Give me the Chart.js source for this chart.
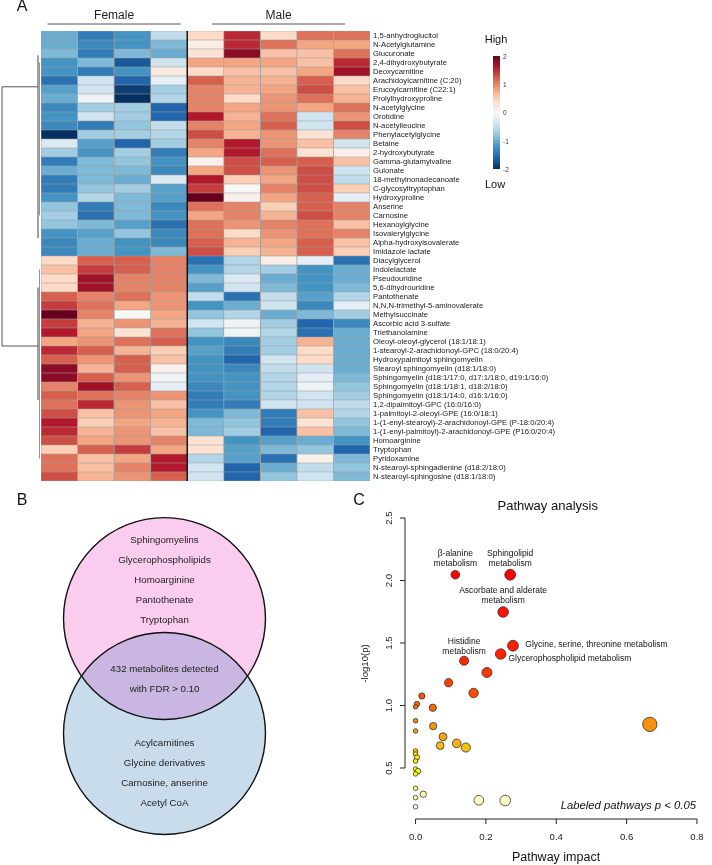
<!DOCTYPE html>
<html lang="en">
<head>
<meta charset="UTF-8">
<title>Metabolite heatmap, Venn diagram and pathway analysis</title>
<script src="https://cdn.jsdelivr.net/npm/chart.js"></script>
<style>
    body { margin: 0; background: #fff; }
    #page { position: relative; width: 712px; height: 865px; overflow: hidden; }
    .panel { position: absolute; }
</style>
</head>
<body>
<div id="page">
    <div class="panel" style="left:0;top:0"><canvas id="heatmap" width="712" height="490"></canvas></div>
    <div class="panel" style="left:0;top:490px"><canvas id="venn" width="340" height="375"></canvas></div>
    <div class="panel" style="left:340px;top:490px"><canvas id="pathway" width="372" height="375"></canvas></div>
</div>
<script>
// ---- data ----
const groups = ['Female', 'Male'];
const samples = ['F1', 'F2', 'F3', 'F4', 'M1', 'M2', 'M3', 'M4', 'M5'];
const metabolites = [
    '1,5-anhydroglucitol', 'N-Acetylglutamine', 'Glucuronate', '2,4-dihydroxybutyrate', 'Deoxycarnitine',
    'Arachidoylcarnitine (C:20)', 'Erucoylcarnitine (C22:1)', 'Prolylhydroxyproline', 'N-acetylglycine', 'Orotidine',
    'N-acetylleucine', 'Phenylacetylglycine', 'Betaine', '2-hydroxybutyrate', 'Gamma-glutamylvaline',
    'Gulonate', '18-methylnonadecanoate', 'C-glycosyltryptophan', 'Hydroxyproline', 'Anserine',
    'Carnosine', 'Hexanoylglycine', 'Isovalerylglycine', 'Alpha-hydroxyisovalerate', 'Imidazole lactate',
    'Diacylglycerol', 'Indolelactate', 'Pseudouridine', '5,6-dihydrouridine', 'Pantothenate',
    'N,N,N-trimethyl-5-aminovalerate', 'Methylsuccinate', 'Ascorbic acid 3-sulfate', 'Triethanolamine', 'Oleoyl-oleoyl-glycerol (18:1/18:1)',
    '1-stearoyl-2-arachidonoyl-GPC (18:0/20:4)', 'Hydroxypalmitoyl sphingomyelin', 'Stearoyl sphingomyelin (d18:1/18:0)',
    'Sphingomyelin (d18:1/17:0, d17:1/18:0, d19:1/16:0)', 'Sphingomyelin (d18:1/18:1, d18:2/18:0)',
    'Sphingomyelin (d18:1/14:0, d16:1/16:0)', '1,2-dipalmitoyl-GPC (16:0/16:0)', '1-palmitoyl-2-oleoyl-GPE (16:0/18:1)',
    '1-(1-enyl-stearoyl)-2-arachidonoyl-GPE (P-18:0/20:4)', '1-(1-enyl-palmitoyl)-2-arachidonoyl-GPE (P16:0/20:4)',
    'Homoarginine', 'Tryptophan', 'Pyridoxamine', 'N-stearoyl-sphingadienine (d18:2/18:0)', 'N-stearoyl-sphingosine (d18:1/18:0)'
];
// one row per metabolite, columns follow samples
const zScores = [
    [-1.0, -1.4, -1.2, -0.5, 0.4, 1.5, 0.4, 1.1, 1.1],
    [-1.0, -1.3, -1.2, -0.9, 0.15, 1.5, 1.1, 0.8, 0.8],
    [-0.9, -1.4, -0.9, -1.0, 0.3, 1.8, 0.6, 0.6, 1.1],
    [-1.2, -0.9, -1.7, -0.4, 0.8, 0.8, 0.8, 0.6, 1.5],
    [-1.2, -1.4, -1.2, 0.2, 0.4, 0.6, 0.6, 0.8, 1.7],
    [-1.5, -0.4, -1.6, -0.2, 1.2, 0.7, 0.7, 1.2, 0.4],
    [-1.1, -0.4, -1.9, -0.7, 1.0, 0.7, 0.8, 1.3, 0.6],
    [-1.0, -0.1, -2.0, -0.6, 1.0, 0.4, 0.9, 1.1, 0.7],
    [-1.3, -0.7, -0.7, -1.6, 1.0, 0.8, 0.9, 0.8, 1.1],
    [-1.2, -0.4, -0.7, -1.6, 1.6, 0.7, 1.1, -0.4, 0.9],
    [-1.3, -1.4, -0.8, -0.5, 1.0, 0.8, 1.2, -0.4, 1.3],
    [-2.0, -0.7, -0.7, -0.6, 1.3, 0.7, 0.9, 0.3, 1.0],
    [-0.3, -1.1, -1.6, -0.7, 1.0, 1.6, 0.9, 0.6, -0.4],
    [-0.7, -1.2, -0.7, -1.4, 0.8, 1.6, 1.1, 0.3, 0.1],
    [-1.4, -0.9, -0.8, -1.2, 0.1, 1.3, 1.2, 1.2, 0.6],
    [-1.0, -0.9, -0.9, -1.3, 0.8, 1.3, 0.9, 1.3, -0.4],
    [-1.4, -0.9, -1.0, -0.3, 1.6, 0.5, 0.8, 1.3, -0.5],
    [-1.4, -0.8, -0.7, -1.1, 1.4, 0.0, 1.0, 1.3, 0.5],
    [-1.2, -0.6, -0.9, -1.1, 2.0, 0.1, 0.8, 1.2, -0.2],
    [-0.8, -1.4, -0.9, -1.3, 1.1, 1.0, 0.5, 1.2, 1.0],
    [-0.7, -1.5, -0.9, -1.2, 0.8, 1.0, 0.7, 1.3, 1.0],
    [-0.8, -0.9, -1.1, -1.5, 1.1, 0.9, 1.0, 1.1, 0.6],
    [-1.2, -1.1, -0.8, -1.3, 1.1, 0.4, 0.9, 1.1, 1.0],
    [-1.3, -1.0, -1.2, -1.3, 1.2, 0.7, 0.8, 1.2, 0.6],
    [-1.3, -1.0, -1.2, -0.9, 1.3, 0.5, 0.7, 1.2, 0.5],
    [0.4, 1.2, 1.2, 1.0, -1.5, -0.6, 0.15, -0.2, -1.5],
    [0.6, 1.4, 1.2, 1.0, -1.2, -0.6, -0.7, -1.2, -1.0],
    [0.4, 1.7, 1.0, 1.0, -0.9, -0.3, -1.0, -1.2, -1.0],
    [0.4, 1.7, 1.0, 1.0, -1.1, -0.4, -0.9, -1.2, -0.9],
    [1.2, 1.0, 1.1, 0.9, -0.5, -1.5, -0.5, -1.1, -0.6],
    [1.4, 1.1, 0.8, 0.9, -1.2, -1.0, -0.4, -1.3, -0.2],
    [2.0, 1.0, 0.0, 0.8, -0.8, -0.6, -1.0, -0.9, -0.7],
    [1.4, 0.7, 0.9, 0.7, -0.4, -0.1, -0.7, -1.6, -1.3],
    [1.6, 0.8, 0.3, 1.1, -0.8, -0.1, -0.6, -1.5, -1.0],
    [0.8, 0.9, 1.1, 1.2, -1.2, -1.3, -0.7, 0.7, -1.0],
    [1.5, 1.2, 0.7, 0.5, -1.1, -1.4, -0.7, 0.4, -1.0],
    [1.2, 0.9, 1.2, 0.6, -1.2, -1.6, -0.4, 0.4, -1.0],
    [1.8, 0.7, 1.2, 0.1, -1.2, -1.3, -0.5, -0.4, -1.0],
    [1.8, 1.2, 0.9, -0.1, -1.2, -1.2, -0.6, -0.2, -0.9],
    [1.0, 1.7, 1.2, -0.2, -1.3, -1.2, -0.6, -0.1, -0.8],
    [1.2, 1.1, 1.0, 0.9, -1.4, -1.2, -0.6, -0.4, -0.7],
    [1.1, 1.5, 0.9, 0.6, -1.4, -1.4, -0.4, -0.4, -0.5],
    [1.3, 0.6, 0.9, 0.8, -1.2, -0.9, -1.4, 0.6, -0.6],
    [1.6, 0.5, 0.8, 0.7, -0.9, -0.8, -1.4, 0.3, -0.8],
    [1.5, 0.7, 0.9, 0.6, -0.9, -0.7, -1.6, 0.6, -0.9],
    [1.3, 0.8, 0.9, 1.0, 0.3, -1.2, -1.1, -1.0, -1.2],
    [0.5, 1.2, 1.4, 0.8, 0.3, -1.1, -0.9, -0.8, -1.6],
    [1.1, 0.6, 0.8, 1.6, -0.6, -1.1, -1.5, 0.1, -0.9],
    [1.1, 0.6, 1.0, 1.6, -0.4, -1.6, -1.0, -0.5, -0.8],
    [1.3, 0.7, 0.9, 1.2, -0.4, -1.6, -0.8, -0.4, -0.9]
];
const colorbarTicks = [2, 1, 0, -1, -2];

const femaleHigher = ['Sphingomyelins', 'Glycerophospholipids', 'Homoarginine', 'Pantothenate', 'Tryptophan'];
const sharedText = ['432 metabolites detected', 'with FDR > 0.10'];
const maleHigher = ['Acylcarnitines', 'Glycine derivatives', 'Carnosine, anserine', 'Acetyl CoA'];

const pathwayImpact = [0.113, 0.269, 0.249, 0.277, 0.242, 0.138, 0.203, 0.094, 0.165, 0.018,
    0.004, 0.000, 0.049, 0.000, 0.050, 0.000, 0.078, 0.070, 0.117, 0.143,
    0.666, 0.000, 0.000, 0.004, 0.000, 0.000, 0.007, 0.000, 0.000, 0.022,
    0.000, 0.000, 0.180, 0.255];
const negLog10P = [2.046, 2.046, 1.748, 1.478, 1.412, 1.358, 1.264, 1.182, 1.100, 1.076,
    1.012, 0.990, 0.982, 0.878, 0.835, 0.796, 0.750, 0.679, 0.697, 0.664,
    0.849, 0.636, 0.612, 0.584, 0.556, 0.492, 0.475, 0.453, 0.338, 0.290,
    0.263, 0.190, 0.242, 0.240];
const pathwayNames = ['β-alanine\nmetabolism', 'Sphingolipid\nmetabolism', 'Ascorbate and alderate\nmetabolism',
    'Glycine, serine, threonine metabolism', 'Glycerophospholipid metabolism', 'Histidine\nmetabolism'];
const xTicks = [0, 0.2, 0.4, 0.6, 0.8];
const yTicks = [0.5, 1.0, 1.5, 2.0, 2.5];

// ---- helpers ----
const FONT = 'Arial, "Liberation Sans", sans-serif';
Chart.defaults.font.family = FONT;

const rdbuStops = ['#053061', '#2166ac', '#4393c3', '#92c5de', '#d1e5f0', '#f7f7f7',
    '#fddbc7', '#f4a582', '#d6604d', '#b2182b', '#67001f'].map(h => [1, 3, 5].map(i => parseInt(h.substr(i, 2), 16)));

function mix(a, b, f) {
    return 'rgb(' + a.map((c, i) => Math.round(c + (b[i] - c) * f)).join(',') + ')';
}

function rdbu(v) {
    const t = Math.max(0, Math.min(1, (v + 2) / 4)) * 10;
    const i = Math.min(9, Math.floor(t));
    return mix(rdbuStops[i], rdbuStops[i + 1], t - i);
}

const heatStops = [[0.19, [255, 255, 240]], [0.25, [255, 255, 190]], [0.34, [255, 255, 120]], [0.45, [255, 255, 0]],
    [0.58, [255, 238, 0]], [0.64, [252, 205, 10]], [0.70, [248, 175, 20]], [0.85, [245, 145, 15]],
    [0.98, [245, 110, 10]], [1.1, [250, 75, 0]], [1.4, [255, 35, 0]], [2.05, [255, 0, 0]]];

function heatColor(p) {
    if (p <= heatStops[0][0]) return mix(heatStops[0][1], heatStops[0][1], 0);
    for (let i = 1; i < heatStops.length; i++) {
        if (p <= heatStops[i][0]) {
            const f = (p - heatStops[i - 1][0]) / (heatStops[i][0] - heatStops[i - 1][0]);
            return mix(heatStops[i - 1][1], heatStops[i][1], f);
        }
    }
    return 'rgb(255,0,0)';
}

function text(ctx, str, x, y, size, align, opts) {
    ctx.save();
    ctx.font = (opts && opts.style ? opts.style + ' ' : '') + size + 'px ' + FONT;
    ctx.fillStyle = (opts && opts.color) || '#111';
    ctx.textAlign = align || 'center';
    ctx.textBaseline = 'middle';
    if (opts && opts.rotate) {
        ctx.translate(x, y);
        ctx.rotate(opts.rotate);
        ctx.fillText(str, 0, 0);
    } else {
        ctx.fillText(str, x, y);
    }
    ctx.restore();
}

function line(ctx, x1, y1, x2, y2, color, width) {
    ctx.save();
    ctx.strokeStyle = color;
    ctx.lineWidth = width;
    ctx.beginPath();
    ctx.moveTo(x1, y1);
    ctx.lineTo(x2, y2);
    ctx.stroke();
    ctx.restore();
}

// ---- A: heatmap ----
const heatmapDecor = {
    id: 'heatmapDecor',
    afterDraw(chart) {
        const ctx = chart.ctx;
        const x = chart.scales.x, y = chart.scales.y;
        const area = chart.chartArea;

        // split between groups
        line(ctx, x.getPixelForValue(4), area.top, x.getPixelForValue(4), area.bottom, '#000', 1.3);

        // group headers
        const centres = [2, 6.5];
        groups.forEach((g, i) => {
            const c = centres[i];
            text(ctx, g, x.getPixelForValue(c), 16, 12, 'center', { color: '#222' });
            line(ctx, x.getPixelForValue(c - 1.82), 24, x.getPixelForValue(c + 1.82), 24, '#555', 1);
        });

        // row dendrogram
        const rootX = area.left - 39, branchX = area.left - 3;
        const topY = y.getPixelForValue(5.7), botY = y.getPixelForValue(34.5);
        const g = '#555';
        line(ctx, rootX, topY, rootX, botY, g, 1);
        line(ctx, rootX, topY, branchX, topY, g, 1);
        line(ctx, rootX, botY, branchX, botY, g, 1);
        line(ctx, branchX, y.getPixelForValue(2.2), branchX, y.getPixelForValue(22.5), '#444', 1);
        line(ctx, branchX + 1.5, y.getPixelForValue(3), branchX + 1.5, y.getPixelForValue(20), '#777', 0.8);
        line(ctx, branchX, y.getPixelForValue(28), branchX, y.getPixelForValue(40.5), '#444', 1);
        line(ctx, branchX + 1.5, y.getPixelForValue(26), branchX + 1.5, y.getPixelForValue(47), '#777', 0.8);

        // colour key
        const kx = 493, kw = 7, kTop = 56, kBot = 169;
        for (let py = kTop; py < kBot; py++) {
            ctx.fillStyle = rdbu(2 - 4 * (py - kTop + 0.5) / (kBot - kTop));
            ctx.fillRect(kx, py, kw, 1);
        }
        colorbarTicks.forEach(v => {
            const py = kTop + (2 - v) / 4 * (kBot - kTop);
            text(ctx, String(v), kx + 10, py + 1, 6.5, 'left', { color: '#333' });
        });
        text(ctx, 'High', 496, 40, 11, 'center', { color: '#111' });
        text(ctx, 'Low', 495, 185, 11, 'center', { color: '#111' });

        text(ctx, 'A', 22, 7, 16, 'center', { color: '#111' });
    }
};

new Chart(document.getElementById('heatmap'), {
    type: 'bar',
    data: {
        labels: metabolites,
        datasets: samples.map((s, j) => ({
            label: s,
            data: metabolites.map(() => [j, j + 1]),
            backgroundColor: zScores.map(row => rdbu(row[j])),
            borderColor: '#a0a0a0',
            borderWidth: 0.7,
            borderSkipped: false,
            grouped: false,
            barPercentage: 1,
            categoryPercentage: 1
        }))
    },
    options: {
        indexAxis: 'y',
        responsive: false,
        animation: false,
        layout: { padding: { left: 41, top: 31, bottom: 9, right: 0 } },
        plugins: { legend: { display: false }, tooltip: { enabled: false } },
        scales: {
            x: { type: 'linear', min: 0, max: 9, display: false },
            y: {
                position: 'right',
                grid: { display: false, drawTicks: false },
                border: { display: false },
                afterFit: s => { s.width = 342; },
                ticks: { autoSkip: false, padding: 3, color: '#1a1a1a', font: { size: 7.7 } }
            }
        }
    },
    plugins: [heatmapDecor]
});

// ---- B: Venn diagram ----
const vennDecor = {
    id: 'vennDecor',
    afterDatasetsDraw(chart) {
        const ctx = chart.ctx;
        const pts = chart.getDatasetMeta(0).data;
        const r = chart.scales.x.getPixelForValue(1) - chart.scales.x.getPixelForValue(0);
        const [a, b] = pts;
        ctx.save();
        ctx.beginPath();
        ctx.arc(a.x, a.y, r, 0, Math.PI * 2);
        ctx.clip();
        ctx.beginPath();
        ctx.arc(b.x, b.y, r, 0, Math.PI * 2);
        ctx.fillStyle = '#c9b6e1';
        ctx.fill();
        ctx.restore();
        ctx.save();
        ctx.strokeStyle = '#111';
        ctx.lineWidth = 1.4;
        [a, b].forEach(p => { ctx.beginPath(); ctx.arc(p.x, p.y, r, 0, Math.PI * 2); ctx.stroke(); });
        ctx.restore();

        const step = 20;
        femaleHigher.forEach((t, i) => text(ctx, t, a.x, a.y - 78.5 + i * step, 9.7, 'center', { color: '#222' }));
        const mid = (a.y + b.y) / 2;
        sharedText.forEach((t, i) => text(ctx, t, a.x, mid - 7 + i * step, 9.7, 'center', { color: '#222' }));
        maleHigher.forEach((t, i) => text(ctx, t, b.x, b.y + 9.5 + i * step, 9.7, 'center', { color: '#222' }));

        text(ctx, 'B', 22, 11, 16, 'center', { color: '#111' });
    }
};

new Chart(document.getElementById('venn'), {
    type: 'scatter',
    data: {
        datasets: [{
            data: [{ x: 0, y: 0.569 }, { x: 0, y: -0.569 }],
            backgroundColor: ['#facdef', '#c9dcec'],
            borderWidth: 0,
            pointRadius: c => c.chart.scales.x.getPixelForValue(1) - c.chart.scales.x.getPixelForValue(0)
        }]
    },
    options: {
        responsive: false,
        animation: false,
        layout: { padding: 0 },
        plugins: { legend: { display: false }, tooltip: { enabled: false } },
        scales: {
            x: { min: -1.629, max: 1.738, display: false },
            y: { min: -1.871, max: 1.842, display: false }
        }
    },
    plugins: [vennDecor]
});

// ---- C: pathway analysis ----
const labelPlacement = [
    { dx: 0, dy: -20.7, align: 'center' },
    { dx: 0, dy: -20.7, align: 'center' },
    { dx: 0, dy: -21.3, align: 'center' },
    { dx: 12.3, dy: -1, align: 'left' },
    { dx: 7.7, dy: 5, align: 'left' },
    { dx: 0, dy: -18.7, align: 'center' }
];

const pathwayDecor = {
    id: 'pathwayDecor',
    afterDraw(chart) {
        const ctx = chart.ctx;
        const x = chart.scales.x, y = chart.scales.y;
        const area = chart.chartArea;
        const ax = '#222';

        // x axis
        line(ctx, x.getPixelForValue(xTicks[0]), area.bottom, x.getPixelForValue(xTicks[xTicks.length - 1]), area.bottom, ax, 1);
        xTicks.forEach(v => {
            const px = x.getPixelForValue(v);
            line(ctx, px, area.bottom, px, area.bottom + 5, ax, 1);
            text(ctx, v.toFixed(1), px, area.bottom + 18, 9.6, 'center', { color: '#222' });
        });
        // y axis
        line(ctx, area.left, y.getPixelForValue(yTicks[0]), area.left, y.getPixelForValue(yTicks[yTicks.length - 1]), ax, 1);
        yTicks.forEach(v => {
            const py = y.getPixelForValue(v);
            line(ctx, area.left - 5, py, area.left, py, ax, 1);
            text(ctx, v.toFixed(1), area.left - 16, py, 9.6, 'center', { color: '#222', rotate: -Math.PI / 2 });
        });

        text(ctx, 'Pathway impact', (area.left + area.right) / 2 + 1.5, area.bottom + 39, 12.5, 'center', { color: '#111' });
        text(ctx, '-log10(p)', 25, (area.top + area.bottom) / 2 - 2, 9.6, 'center', { color: '#222', rotate: -Math.PI / 2 });
        text(ctx, 'Pathway analysis', 207.7, 16, 13, 'center', { color: '#111' });
        text(ctx, 'Labeled pathways p < 0.05', 356, 316, 11.3, 'right', { color: '#111', style: 'italic' });
        text(ctx, 'C', 19, 11, 16, 'center', { color: '#111' });

        // pathway labels
        const pts = chart.getDatasetMeta(0).data;
        pathwayNames.forEach((name, i) => {
            const p = pts[i], pl = labelPlacement[i];
            name.split('\n').forEach((ln, k) => {
                text(ctx, ln, p.x + pl.dx, p.y + pl.dy + k * 10, 8.5, pl.align, { color: '#111' });
            });
        });
    }
};

new Chart(document.getElementById('pathway'), {
    type: 'scatter',
    data: {
        datasets: [{
            data: pathwayImpact.map((v, i) => ({ x: v, y: negLog10P[i] })),
            pointRadius: c => 2.3 + 6 * Math.sqrt(c.raw.x),
            backgroundColor: c => heatColor(c.raw.y),
            borderColor: '#333',
            borderWidth: 0.8
        }]
    },
    options: {
        responsive: false,
        animation: false,
        clip: false,
        layout: { padding: { left: 65, top: 22, right: 0, bottom: 46 } },
        plugins: { legend: { display: false }, tooltip: { enabled: false } },
        scales: {
            x: { type: 'linear', min: -0.03, max: 0.82, display: false },
            y: { type: 'linear', min: 0.092, max: 2.548, display: false }
        }
    },
    plugins: [pathwayDecor]
});
</script>
</body>
</html>
